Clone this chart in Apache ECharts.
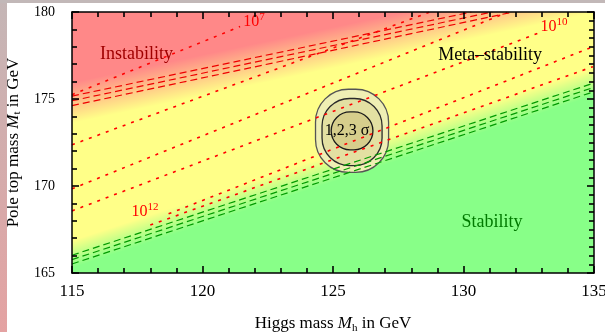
<!DOCTYPE html>
<html>
<head>
<meta charset="utf-8">
<script src="https://cdn.jsdelivr.net/npm/echarts@6/dist/echarts.min.js"></script>
<style>
  html, body { margin: 0; padding: 0; background: #ffffff; }
  #chart { width: 605px; height: 332px; }
</style>
</head>
<body>
<div id="chart"></div>
<script>
// Axis ranges (GeV)
const higgsRange = [115, 135];
const topRange = [165, 180];

// Instability bound: central line and the two lines of its error band, [M_h, M_t]
const instabilityLines = [
  [[115, 175.17], [130.3, 180]],
  [[115, 174.90], [131.1, 180]],
  [[115, 174.62], [131.9, 180]]
];

// Stability bound: central line and its error band, [M_h, M_t]
const stabilityLines = [
  [[115, 166.02], [135, 175.92]],
  [[115, 165.77], [135, 175.67]],
  [[115, 165.52], [135, 175.42]]
];

// Contours of the instability scale Lambda, [M_h, M_t]
const lambdaContours = [
  [[115, 175.25], [121.44, 179.16]],
  [[115, 172.37], [128.72, 180.00]],
  [[115, 169.84], [131.67, 179.97]],
  [[115, 168.57], [132.93, 178.82]],
  [[118.7, 168.40], [134.96, 178.00]],
  [[118.0, 167.76], [134.96, 176.86]]
];
const lambdaExponents = ['7', '10', '12'];

// Measured point and its 3, 2, 1 sigma regions: [M_h, M_t, half-width M_h, half-width M_t]
const sigmaRegions = [
  [125.73, 173.17, 1.40, 2.39],
  [125.73, 173.10, 1.15, 1.93],
  [125.73, 173.17, 0.80, 1.09]
];

// Text annotations anchored in data coordinates
const regionNames = ['Instability', 'Meta\u2013stability', 'Stability', '1,2,3 \u03c3'];
const regionAnchors = [[117.47, 177.55], [131.02, 177.49], [131.09, 167.94], [125.54, 173.17]];
const regionColors = ['#a00000', '#000000', '#007a00', '#000000'];
const lambdaAnchors = [[121.97, 179.45], [133.47, 179.16], [117.80, 168.51]];

const SERIF = '"Liberation Serif", "DejaVu Serif", "Times New Roman", serif';
const RED_FILL = '255,136,136';
const GREEN_FILL = '136,255,136';
const YELLOW_FILL = '#ffff88';

const chart = echarts.init(document.getElementById('chart'), null, { renderer: 'canvas' });

// Gradient whose direction is perpendicular to a bound line (pixel space)
function acrossLine(api, line, from, to, c0, c1) {
  const p = api.coord(line[0]);
  const q = api.coord(line[1]);
  let dx = q[0] - p[0], dy = q[1] - p[1];
  const len = Math.hypot(dx, dy);
  dx /= len; dy /= len;
  const nx = -dy, ny = dx; // towards lower M_t
  return {
    type: 'linear', global: true,
    x: p[0] + nx * from, y: p[1] + ny * from,
    x2: p[0] + nx * to, y2: p[1] + ny * to,
    colorStops: [{ offset: 0, color: c0 }, { offset: 1, color: c1 }]
  };
}

function renderRegions(params, api) {
  const tl = api.coord([higgsRange[0], topRange[1]]);
  const br = api.coord([higgsRange[1], topRange[0]]);
  const box = { x: tl[0], y: tl[1], width: br[0] - tl[0], height: br[1] - tl[1] };
  return {
    type: 'group',
    children: [
      { type: 'rect', shape: box, style: { fill: YELLOW_FILL } },
      { type: 'rect', shape: box, style: { fill: acrossLine(api, instabilityLines[1], -18, 22,
          'rgba(' + RED_FILL + ',1)', 'rgba(' + RED_FILL + ',0)') } },
      { type: 'rect', shape: box, style: { fill: acrossLine(api, stabilityLines[1], -18, 8,
          'rgba(' + GREEN_FILL + ',0)', 'rgba(' + GREEN_FILL + ',1)') } }
    ]
  };
}

const sigmaFills = ['#efefb4', '#e3e0a2', '#d6ce8c'];
const sigmaStrokes = ['#555555', '#2a2a2a', '#1a1a1a'];
const sigmaRound = [0.9, 0.92, 1.0];

function renderSigma(params, api) {
  const c = api.coord([api.value(0), api.value(1)]);
  const s = api.size([api.value(2), api.value(3)]);
  const i = params.dataIndex;
  const w = s[0], h = s[1];
  return {
    type: 'rect',
    shape: { x: c[0] - w, y: c[1] - h, width: 2 * w, height: 2 * h, r: sigmaRound[i] * Math.min(w, h) },
    style: { fill: sigmaFills[i], stroke: sigmaStrokes[i], lineWidth: 1.3 }
  };
}

function renderRegionNames(params, api) {
  const i = params.dataIndex;
  const c = api.coord([api.value(0), api.value(1)]);
  return {
    type: 'text',
    x: c[0], y: c[1],
    style: {
      text: regionNames[i],
      fill: regionColors[i],
      font: (i === 3 ? '16px ' : '18px ') + SERIF,
      align: 'center', verticalAlign: 'middle'
    }
  };
}

function renderLambdaLabels(params, api) {
  const i = params.dataIndex;
  const c = api.coord([api.value(0), api.value(1)]);
  return {
    type: 'text',
    x: c[0], y: c[1],
    style: {
      text: '{b|10}{p|' + lambdaExponents[i] + '}',
      align: 'center', verticalAlign: 'middle',
      rich: {
        b: { fontSize: 16, fontFamily: SERIF, fill: '#ff0000', color: '#ff0000' },
        p: { fontSize: 11, fontFamily: SERIF, fill: '#ff0000', color: '#ff0000', padding: [0, 0, 9, 0] }
      }
    }
  };
}

const lineSeries = [];
instabilityLines.forEach(function (pts) {
  lineSeries.push({
    type: 'line', data: pts, symbol: 'none', silent: true, z: 4,
    lineStyle: { color: '#ee0000', width: 1.2, type: [7, 4] }
  });
});
stabilityLines.forEach(function (pts) {
  lineSeries.push({
    type: 'line', data: pts, symbol: 'none', silent: true, z: 4,
    lineStyle: { color: '#009a00', width: 1.2, type: [7, 4] }
  });
});
lambdaContours.forEach(function (pts) {
  lineSeries.push({
    type: 'line', data: pts, symbol: 'none', silent: true, z: 4,
    lineStyle: { color: '#ff0000', width: 1.6, type: [3, 6] }
  });
});

// Frame axis: black line with inward major and minor ticks
function frameAxis(extra) {
  return Object.assign({
    type: 'value', z: 10,
    axisLine: { show: true, lineStyle: { color: '#000', width: 1.5 } },
    axisTick: { show: true, inside: true, length: 7, lineStyle: { color: '#000', width: 1.6 } },
    minorTick: { show: true, splitNumber: 5, length: 5, lineStyle: { color: '#000', width: 1.6 } },
    splitLine: { show: false },
    minorSplitLine: { show: false },
    axisLabel: { show: false }
  }, extra);
}

const nameRich = {
  a: { fontSize: 17, fontFamily: SERIF, color: '#000' },
  i: { fontSize: 17, fontFamily: SERIF, fontStyle: 'italic', color: '#000' },
  s: { fontSize: 11, fontFamily: SERIF, color: '#000', padding: [9, 0, 0, 0] }
};

const option = {
  animation: false,
  backgroundColor: '#ffffff',
  grid: { left: 72, right: 11, top: 12, bottom: 59, containLabel: false, outerBoundsMode: 'none' },
  graphic: [
    { type: 'rect', shape: { x: 0, y: 0, width: 7, height: 332 }, z: 100,
      style: { fill: { type: 'linear', x: 0, y: 0, x2: 0, y2: 1,
        colorStops: [{ offset: 0, color: '#c4b6b6' }, { offset: 1, color: '#e4a2a2' }] } } },
    { type: 'rect', shape: { x: 0, y: 0, width: 605, height: 3 }, z: 100, style: { fill: '#c2b8b8' } }
  ],
  xAxis: [
    frameAxis({
      min: higgsRange[0], max: higgsRange[1], interval: 5, position: 'bottom',
      name: '{a|Higgs mass }{i|M}{s|h}{a| in GeV}', nameLocation: 'middle', nameGap: 41,
      nameTextStyle: { rich: nameRich },
      axisLabel: { show: true, color: '#000', fontSize: 17, fontFamily: SERIF, margin: 10 }
    }),
    frameAxis({ min: higgsRange[0], max: higgsRange[1], interval: 5, position: 'top' })
  ],
  yAxis: [
    frameAxis({
      min: topRange[0], max: topRange[1], interval: 5, position: 'left',
      name: '{a|Pole top mass }{i|M}{s|t}{a| in GeV}', nameLocation: 'middle', nameGap: 48,
      nameTextStyle: { rich: nameRich },
      axisLabel: { show: true, color: '#000', fontSize: 14, fontFamily: SERIF, margin: 17 }
    }),
    frameAxis({
      min: topRange[0], max: topRange[1], interval: 5, position: 'right',
      minorTick: { show: true, splitNumber: 10, length: 5, lineStyle: { color: '#000', width: 1.6 } }
    })
  ],
  series: [
    { type: 'custom', renderItem: renderRegions, data: [[higgsRange[0], topRange[0]]], silent: true, z: 1 },
    { type: 'custom', renderItem: renderSigma, data: sigmaRegions, silent: true, z: 2 }
  ].concat(lineSeries).concat([
    { type: 'custom', renderItem: renderRegionNames, data: regionAnchors, silent: true, z: 6 },
    { type: 'custom', renderItem: renderLambdaLabels, data: lambdaAnchors, silent: true, z: 6 }
  ])
};

chart.setOption(option);
</script>
</body>
</html>
